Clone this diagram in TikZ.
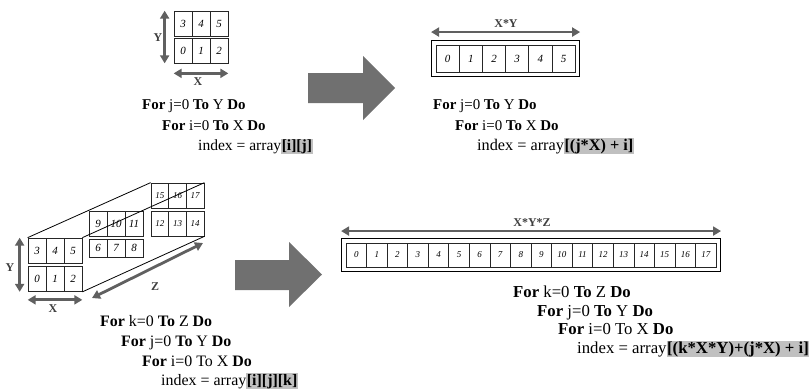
\documentclass[tikz,border=0pt]{standalone}
\usepackage{fontspec}
\setmainfont{Liberation Serif}
\usetikzlibrary{positioning,fit,arrows.meta}

\definecolor{arrgray}{RGB}{112,112,112}
\definecolor{dimgray}{RGB}{96,96,96}
\definecolor{hlgray}{RGB}{192,192,192}
\newcommand\hl[1]{{\setlength{\fboxsep}{0.6pt}\colorbox{hlgray}{\textbf{#1}}}}

\tikzset{
  cell/.style={draw=black!85, line width=0.7bp, inner sep=0pt, minimum width=18bp, minimum height=25bp,
    font=\fontsize{11}{11}\selectfont\itshape},
  cellw/.style={cell, minimum width=23.2bp, minimum height=27bp},
  cellz/.style={cell, minimum width=20.56bp, minimum height=24bp,
    font=\fontsize{9}{9}\selectfont\itshape},
  cellb/.style={cell, minimum width=17.7bp, font=\fontsize{9}{9}\selectfont\itshape},
  box/.style={draw, line width=1.2bp, inner sep=4bp},
  edge/.style={draw, line width=0.8bp},
  dim/.style={draw=dimgray, line width=2.8bp, {Triangle[length=8bp,width=9bp]}-{Triangle[length=8bp,width=9bp]}},
  lab/.style={text=black!75, font=\fontsize{12}{12}\selectfont\bfseries, inner sep=0pt},
  code/.style={anchor=base west, inner sep=0pt, font=\fontsize{#1}{#1}\selectfont},
  code/.default=16,
}

\begin{document}
\begin{tikzpicture}[x=1bp, y=-1bp]
  \useasboundingbox (0,0) rectangle (809,388);
  % 2D array
  \foreach \n in {0,1,2} {
    \pgfmathtruncatemacro\m{\n+3}
    \node[cell] (c\n) at ({183+18*\n},50.5) {\n};
    \node[cell] (c\m) at ({183+18*\n},23.5) {\m};
  }
  \coordinate (yt) at ([xshift=-9bp]c3.north west);
  \coordinate (yb) at ([xshift=-9bp]c0.south west);
  \draw[dim] (yt) -- (yb);
  \node[lab] (ly) at (158,38) {Y};
  \coordinate (xl) at ([yshift=-10bp]c0.south west);
  \coordinate (xr) at ([yshift=-10bp]c2.south east);
  \draw[dim] (xl) -- (xr);
  \node[lab] (lx) at (198,82) {X};
  \node[code=15] (t1) at (142,109) {\textbf{For} j=0 \textbf{To} Y \textbf{Do}};
  \node[code=15] (t2) at (162,130) {\textbf{For} i=0 \textbf{To} X \textbf{Do}};
  \node[code=15.6] (t3) at (198,150) {index = array\hl{[i][j]}};
  % flat 2D
  \foreach \n in {0,...,5}
    \node[cellw] (r\n) at ({447.6+23.2*\n},58.5) {\n};
  \node[box, fit=(r0)(r5)] (rbox) {};
  \coordinate (rl) at ([yshift=8bp]rbox.north west);
  \coordinate (rr) at ([yshift=8bp]rbox.north east);
  \draw[dim] (rl) -- (rr);
  \node[lab] (lxy) at (506,24) {X*Y};
  \node[code=15] (u1) at (433,109) {\textbf{For} j=0 \textbf{To} Y \textbf{Do}};
  \node[code=15] (u2) at (455,130) {\textbf{For} i=0 \textbf{To} X \textbf{Do}};
  \node[code=16.3] (u3) at (477,150) {index = array\hl{[(j*X) + i]}};
  % big arrows
  \fill[arrgray] (308,73) -- (363,73) -- (363,56) -- (395,88) -- (363,120) -- (363,103) -- (308,103) -- cycle;
  \fill[arrgray] (235,260) -- (289,260) -- (289,242) -- (322,274.5) -- (289,307) -- (289,290) -- (235,290) -- cycle;
  % 3D array
  \foreach \n in {0,1,2} {
    \pgfmathtruncatemacro\m{\n+3}
    \node[cell] (f\n) at ({37+18*\n},279) {\n};
    \node[cell] (f\m) at ({37+18*\n},250.5) {\m};
    \pgfmathtruncatemacro\m{\n+6}
    \node[cell, minimum height=18bp] (m\m) at ({98+18*\n},248) {\m};
    \pgfmathtruncatemacro\m{\n+9}
    \node[cell] (m\m) at ({98+18*\n},223.5) {\m};
    \pgfmathtruncatemacro\m{\n+12}
    \node[cellb] (b\m) at ({159.8+17.7*\n},223.5) {\m};
    \pgfmathtruncatemacro\m{\n+15}
    \node[cellb] (b\m) at ({159.8+17.7*\n},195.5) {\m};
  }
  \draw[edge] (f3.north west) -- (b15.north west);
  \draw[edge] (f5.north east) -- (b17.north east);
  \draw[edge] (f2.south east) -- (b14.south east);
  \coordinate (zyt) at ([xshift=-8bp]f3.north west);
  \coordinate (zyb) at ([xshift=-8bp]f0.south west);
  \draw[dim] (zyt) -- (zyb);
  \node[lab] (lzy) at (10,268) {Y};
  \coordinate (zxl) at ([yshift=-8bp]f0.south west);
  \coordinate (zxr) at ([yshift=-8bp]f2.south east);
  \draw[dim] (zxl) -- (zxr);
  \node[lab] (lzx) at (53,309) {X};
  \coordinate (zs) at (92,298);
  \coordinate (ze) at (203,243);
  \draw[dim] (zs) -- (ze);
  \node[lab] (lz) at (155,287) {Z};
  \node[code] (v1) at (100,326) {\textbf{For} k=0 \textbf{To} Z \textbf{Do}};
  \node[code] (v2) at (121,346) {\textbf{For} j=0 \textbf{To} Y \textbf{Do}};
  \node[code] (v3) at (142,366) {\textbf{For} i=0 To X \textbf{Do}};
  \node[code] (v4) at (161,385) {index = array\hl{[i][j][k]}};
  % flat 3D
  \foreach \n in {0,...,17}
    \node[cellz] (z\n) at ({356.3+20.56*\n},255) {\n};
  \node[box, fit=(z0)(z17)] (zbox) {};
  \coordinate (zl) at ([yshift=7bp]zbox.north west);
  \coordinate (zr) at ([yshift=7bp]zbox.north east);
  \draw[dim] (zl) -- (zr);
  \node[lab] (lxyz) at (532,223) {X*Y*Z};
  \node[code=16.8] (w1) at (513,297) {\textbf{For} k=0 \textbf{To} Z \textbf{Do}};
  \node[code=16.8] (w2) at (537,316) {\textbf{For} j=0 \textbf{To} Y \textbf{Do}};
  \node[code=16.8] (w3) at (558,334) {\textbf{For} i=0 To X \textbf{Do}};
  \node[code=16.8] (w4) at (577,353) {index = array\hl{[(k*X*Y)+(j*X) + i]}};
\end{tikzpicture}
\end{document}
